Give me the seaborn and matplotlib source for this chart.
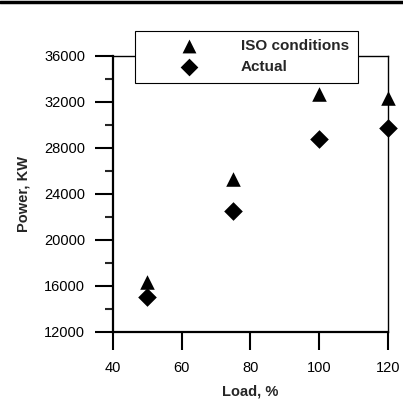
import matplotlib
matplotlib.use("Agg")
import matplotlib.pyplot as plt
import seaborn as sns
import pandas as pd
from matplotlib.lines import Line2D
from matplotlib.ticker import MultipleLocator

load = [50, 75, 100, 120]
iso_power = [16300, 25300, 32700, 32300]
actual_power = [15000, 22500, 28800, 29700]
x_ticks = [40, 60, 80, 100, 120]
y_ticks = [12000, 16000, 20000, 24000, 28000, 32000, 36000]

df = pd.DataFrame({"load": load, "iso": iso_power, "actual": actual_power})

sns.set_style("white")
plt.rcParams["font.family"] = ["Liberation Sans", "DejaVu Sans"]

fig = plt.figure(figsize=(4.03, 3.99), dpi=100)
ax = fig.add_axes([0.280, 0.168, 0.683, 0.692])

sns.scatterplot(data=df, x="load", y="iso", marker="^", s=110, color="black",
                edgecolor="black", linewidth=0, label="ISO conditions", ax=ax,
                clip_on=False, zorder=3)
sns.scatterplot(data=df, x="load", y="actual", marker="D", s=90, color="black",
                edgecolor="black", linewidth=0, label="Actual", ax=ax,
                clip_on=False, zorder=3)

ax.set_xlim(40, 120)
ax.set_ylim(12000, 36000)
ax.set_xticks(x_ticks)
ax.set_yticks(y_ticks)
ax.yaxis.set_minor_locator(MultipleLocator(2000))
ax.tick_params(axis="both", which="major", direction="out", length=13, width=1.5,
               labelsize=10.5, colors="black", bottom=True, left=True)
ax.tick_params(axis="y", which="minor", direction="out", length=6, width=1.5, left=True)
ax.tick_params(axis="y", which="major", pad=7)
ax.tick_params(axis="x", which="major", pad=8)

for side in ["left", "bottom"]:
    ax.spines[side].set_linewidth(1.6)
for side in ["top", "right"]:
    ax.spines[side].set_linewidth(1.0)
for sp in ax.spines.values():
    sp.set_color("black")
    sp.set_visible(True)

ax.set_xlabel("Load, %", fontsize=10.5, fontweight="bold", labelpad=7)
ax.set_ylabel("Power, KW", fontsize=10.5, fontweight="bold", labelpad=10)

leg = ax.legend(loc="upper left", bbox_to_anchor=(0.08, 1.09),
                frameon=True, fancybox=False, edgecolor="black", framealpha=1,
                prop={"weight": "bold", "size": 11}, handletextpad=0.4,
                borderpad=0.55, labelspacing=0.45, handlelength=6, markerscale=0.95,
                borderaxespad=0)
leg.get_frame().set_linewidth(0.8)
leg.set_zorder(5)

fig.add_artist(Line2D([0, 1], [0.996, 0.996], color="black", linewidth=2.5,
                      transform=fig.transFigure))

fig.savefig("out.png", dpi=100)
